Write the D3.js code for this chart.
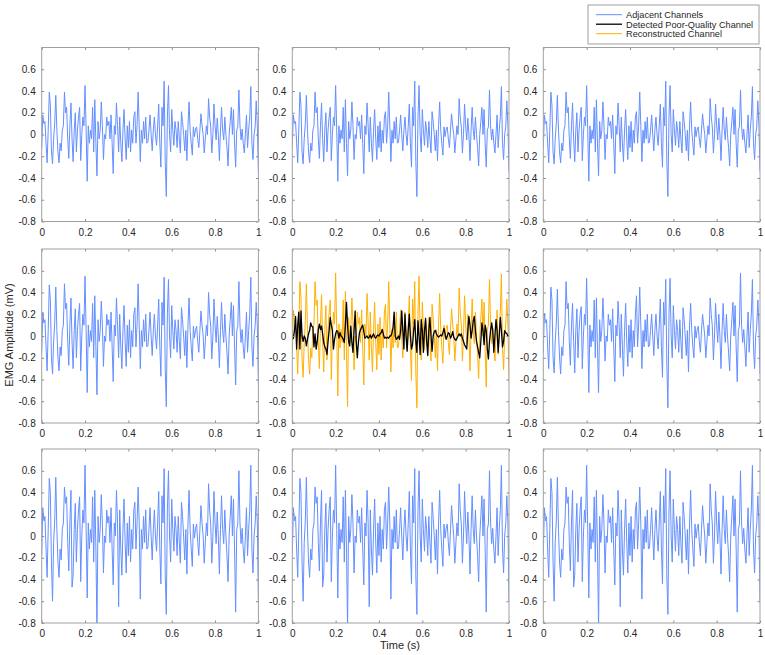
<!doctype html>
<html>
  <head>
    <meta charset="utf-8"/>
    <title>EMG channel reconstruction</title>
    <style>
      body, html {
        font-family: "Liberation Sans", "Helvetica", Arial, sans-serif;
        padding: 0;
        margin: 0;
        border: 0;
        background: #fff;
      }
      .tick text {
        font-size: 10px;
        fill: #262626;
        font-family: "Liberation Sans", Arial, sans-serif;
      }
      .tick line { stroke: #8a8a8a; }
      .axis-label {
        font-size: 11px;
        fill: #262626;
      }
      .legend text {
        font-size: 9.2px;
        fill: #262626;
      }
    </style>
    <script src="https://d3js.org/d3.v7.min.js"></script>
  </head>
  <body>
    <svg id="chart" width="765" height="655"></svg>

    <script>
      // sampled signals, 201 points over 0..1 s (mV)
      var adjacentTop = [
        -0.12,0.18,0.1,0.12,-0.08,-0.26,0.04,0.39,0.27,-0.16,
        -0.27,-0.04,0.1,0.36,0.04,-0.16,-0.26,-0.08,-0.15,0.04,
        0.08,0.39,0.2,0.25,-0.04,-0.22,0.08,0.29,-0.04,-0.25,
        0.04,0.2,-0.16,0.04,0.16,0.25,-0.24,0,0.16,0.08,
        0.45,0.04,-0.43,0.08,-0.08,0.04,-0.04,0.25,-0.16,0.32,
        -0.08,-0.38,0.12,-0.04,0.04,0.3,0.08,-0.23,0,-0.04,
        0.16,0.08,0.12,-0.04,0.18,-0.08,-0.36,0.08,0,0.29,
        0.08,-0.16,0.16,-0.08,-0.25,0.04,0.23,-0.04,-0.23,0.08,
        -0.12,0.12,-0.16,0.04,-0.08,0.16,0.21,-0.08,0.08,0.39,
        0.08,-0.25,0.04,-0.08,0.12,-0.04,0.16,-0.08,-0.07,0.04,
        0.18,0,-0.15,0.04,0.16,0,-0.1,0.08,0.28,-0.08,
        -0.3,0.25,0.08,0.49,-0.25,-0.57,0.16,0.45,0,-0.16,
        0.23,0.04,-0.1,0.12,0.04,-0.12,0.12,-0.04,-0.17,0.21,
        0.12,0,-0.15,0.04,-0.24,0.08,0.3,0.04,-0.08,-0.19,
        0.07,-0.02,0.05,0.07,-0.04,-0.12,0.04,0.19,0.08,0,
        -0.17,-0.04,0.08,0,0.33,0.16,0.07,-0.17,0,0.28,
        0.08,-0.05,0.15,0,-0.24,0.04,0.25,0.04,-0.05,0.16,
        0,-0.12,-0.29,0,0.12,0.25,0,0.23,-0.08,-0.3,
        0.04,0.07,0.41,0.08,-0.05,0.05,-0.08,-0.17,0,0.18,
        -0.12,0.04,0.16,0.44,-0.08,-0.23,0,0.07,0.31,0.08,
        -0.34
      ];

      var adjacentMidLeft = [
        -0.15,0.22,0.12,0.15,-0.1,-0.32,0.05,0.47,0.33,-0.2,
        -0.35,-0.05,0.12,0.45,0.05,-0.2,-0.32,-0.1,-0.18,0.05,
        0.1,0.48,0.25,0.3,-0.05,-0.27,0.1,0.35,-0.05,-0.3,
        0.05,0.25,-0.2,0.05,0.2,0.3,-0.32,0,0.2,0.1,
        0.55,0.05,-0.52,0.1,-0.1,0.05,-0.05,0.3,-0.2,0.37,
        -0.1,-0.54,0.15,-0.05,0.05,0.32,0.1,-0.28,0,-0.05,
        0.2,0.1,0.15,-0.05,0.22,-0.1,-0.42,0.1,0,0.35,
        0.1,-0.2,0.2,-0.1,-0.3,0.05,0.28,-0.05,-0.28,0.1,
        -0.15,0.15,-0.2,0.05,-0.1,0.2,0.26,-0.1,0.1,0.48,
        0.1,-0.3,0.05,-0.1,0.15,-0.05,0.2,-0.1,-0.09,0.05,
        0.22,0,-0.18,0.05,0.2,0,-0.12,0.1,0.34,-0.1,
        -0.37,0.31,0.1,0.54,-0.3,-0.65,0.2,0.52,0,-0.2,
        0.28,0.05,-0.12,0.15,0.05,-0.15,0.15,-0.05,-0.21,0.26,
        0.15,0,-0.18,0.05,-0.29,0.1,0.35,0.05,-0.1,-0.23,
        0.09,-0.02,0.06,0.09,-0.05,-0.15,0.05,0.23,0.1,0,
        -0.21,-0.05,0.1,0,0.4,0.2,0.09,-0.21,0,0.34,
        0.1,-0.06,0.18,0,-0.29,0.05,0.31,0.05,-0.06,0.2,
        0,-0.15,-0.35,0,0.15,0.31,0,0.28,-0.1,-0.45,
        0.05,0.09,0.5,0.1,-0.06,0.06,-0.1,-0.21,0,0.22,
        -0.15,0.05,0.2,0.54,-0.1,-0.28,0,0.09,0.31,0.1,
        -0.43
      ];

      var adjacentMidRight = [
        -0.15,0.21,0.12,0.15,-0.1,-0.3,0.05,0.45,0.33,-0.2,
        -0.34,-0.05,0.12,0.43,0.05,-0.2,-0.35,-0.1,-0.18,0.05,
        0.1,0.5,0.25,0.3,-0.05,-0.27,0.1,0.3,-0.05,-0.34,
        0.05,0.25,-0.2,0.05,0.2,0.27,-0.3,0,0.2,0.1,
        0.53,0.05,-0.52,0.1,-0.1,0.05,-0.05,0.33,-0.2,0.35,
        -0.1,-0.52,0.15,-0.05,0.05,0.35,0.1,-0.23,0,-0.05,
        0.2,0.1,0.15,-0.05,0.25,-0.1,-0.42,0.1,0,0.32,
        0.1,-0.2,0.2,-0.1,-0.37,0.05,0.3,-0.05,-0.28,0.1,
        -0.15,0.15,-0.2,0.05,-0.1,0.2,0.37,-0.1,0.1,0.45,
        0.1,-0.3,0.05,-0.1,0.15,-0.05,0.2,-0.1,-0.09,0.05,
        0.2,0,-0.18,0.05,0.2,0,-0.12,0.1,0.34,-0.1,
        -0.38,0.31,0.1,0.52,-0.25,-0.66,0.2,0.53,0,-0.2,
        0.28,0.05,-0.12,0.15,0.05,-0.15,0.15,-0.05,-0.21,0.26,
        0.15,0,-0.18,0.05,-0.33,0.1,0.3,0.05,-0.1,-0.2,
        0.09,-0.02,0.06,0.09,-0.05,-0.15,0.05,0.2,0.1,0,
        -0.2,-0.05,0.1,0,0.35,0.2,0.09,-0.22,0,0.3,
        0.1,-0.06,0.2,0,-0.3,0.05,0.3,0.05,-0.06,0.2,
        0,-0.15,-0.32,0,0.15,0.31,0,0.28,-0.1,-0.42,
        0.05,0.09,0.58,0.1,-0.06,0.06,-0.1,-0.28,0,0.22,
        -0.15,0.05,0.2,0.52,-0.1,-0.3,0,0.09,0.33,0.1,
        -0.35
      ];

      var adjacentBottom = [
        -0.18,0.26,0.14,0.18,-0.12,-0.38,0.06,0.53,0.4,-0.24,
        -0.6,-0.06,0.14,0.54,0.06,-0.24,-0.38,-0.12,-0.22,0.06,
        0.12,0.45,0.3,0.36,-0.06,-0.32,0.12,0.42,-0.47,-0.36,
        0.06,0.3,-0.24,0.06,0.24,0.36,-0.42,0,0.24,0.12,
        0.65,0.06,-0.57,0.12,-0.12,0.06,-0.06,0.36,-0.24,0.42,
        -0.12,-0.85,0.18,-0.06,0.06,0.38,0.12,-0.34,0,-0.06,
        0.24,0.12,0.18,-0.06,0.26,-0.12,-0.45,0.12,0,0.42,
        0.12,-0.65,0.24,-0.12,-0.36,0.06,0.34,-0.06,-0.34,0.12,
        -0.18,0.18,-0.24,0.06,-0.12,0.24,0.31,-0.12,0.12,0.45,
        0.12,-0.58,0.06,-0.12,0.18,-0.06,0.24,-0.12,-0.11,0.06,
        0.26,0,-0.22,0.06,0.24,0,-0.14,0.12,0.41,-0.12,
        -0.44,0.37,0.12,0.62,-0.36,-0.72,0.24,0.6,0,-0.24,
        0.34,0.06,-0.14,0.18,0.06,-0.18,0.18,-0.06,-0.25,0.31,
        0.18,0,-0.22,0.06,-0.35,0.12,0.42,0.06,-0.12,-0.28,
        0.11,-0.02,0.07,0.11,-0.06,-0.18,0.06,0.28,0.12,0,
        -0.25,-0.06,0.12,0,0.48,0.24,0.11,-0.25,0,0.41,
        0.12,-0.07,0.22,0,-0.35,0.06,0.37,0.06,-0.07,0.24,
        0,-0.18,-0.42,0,0.18,0.37,0,0.34,-0.12,-0.7,
        0.06,0.11,0.6,0.12,-0.07,0.07,-0.12,-0.25,0,0.26,
        -0.18,0.06,0.24,0.65,-0.12,-0.34,0,0.11,0.37,0.12,
        -0.6
      ];

      var poorQuality = [
        -0.03,-0.02,0.05,0.18,-0.12,0.1,0.22,-0.12,0.23,0,
        -0.05,0,-0.02,-0.09,-0.03,0.02,0.05,0.12,0.09,0.08,
        -0.1,0.02,-0.12,-0.05,0.06,0.11,0.06,0.09,0.02,-0.06,
        -0.1,-0.12,-0.17,-0.05,0.05,0.17,0.1,0.05,-0.12,-0.03,
        0.02,0.05,0.04,-0.02,0.03,0,-0.01,-0.03,-0.06,0.1,
        0.31,0.1,-0.05,-0.09,0.09,-0.06,-0.15,0.05,0.23,-0.05,
        -0.2,-0.06,0.03,0.06,0.08,0.1,0.04,-0.02,-0.01,0,
        -0.02,-0.01,0.01,-0.02,0,0.02,-0.01,-0.02,0,0.01,
        0,0.02,0.03,0.06,0.02,-0.02,-0.01,-0.02,-0.01,-0.02,
        0,0,0.03,0.08,0.22,0,-0.03,-0.02,0,-0.03,
        0.05,0.23,0.05,-0.12,0.2,0,-0.14,0.05,0.2,0,
        -0.12,-0.08,0.05,0.15,-0.05,-0.15,0.14,0,-0.17,0.15,
        0.05,-0.15,0.05,0.16,-0.05,-0.18,0.05,0.17,0,-0.14,
        0,0.04,0.05,0.02,0,-0.01,0,0.01,0,0.03,
        0.07,0.02,-0.03,0,0.03,0.02,-0.02,0,0.04,-0.01,
        -0.03,-0.04,-0.02,0,0.02,0,0.02,-0.02,-0.05,-0.08,
        -0.1,-0.12,0.05,0.18,0.1,-0.02,0.05,0.14,0.18,0.05,
        -0.05,-0.1,-0.15,-0.2,-0.05,0.12,0.05,-0.08,0.1,0.05,
        -0.12,-0.21,-0.05,0.05,0.12,0.05,-0.15,0,0.15,0.05,
        -0.15,0,0.17,0.05,-0.1,-0.05,0.05,0.03,0.02,0,
        0
      ];

      var reconstructed = [
        -0.16,0.24,0.13,0.17,-0.11,-0.35,0.06,0.5,0.36,-0.22,
        -0.38,-0.06,0.13,0.48,0.06,-0.22,-0.35,-0.11,-0.2,0.06,
        0.11,0.5,0.28,0.33,-0.06,-0.3,0.11,0.38,-0.06,-0.33,
        0.06,0.28,-0.22,0.06,0.22,0.33,-0.4,0,0.22,0.11,
        0.58,0.06,-0.55,0.11,-0.11,0.06,-0.06,0.33,-0.22,0.41,
        -0.11,-0.65,0.17,-0.06,0.06,0.35,0.11,-0.31,0,-0.06,
        0.22,0.11,0.17,-0.06,0.24,-0.11,-0.45,0.11,0,0.39,
        0.11,-0.22,0.22,-0.11,-0.33,0.06,0.31,-0.06,-0.31,0.11,
        -0.17,0.17,-0.22,0.06,-0.11,0.22,0.29,-0.11,0.11,0.5,
        0.11,-0.33,0.06,-0.11,0.17,-0.06,0.22,-0.11,-0.1,0.06,
        0.24,0,-0.2,0.06,0.22,0,-0.13,0.11,0.37,-0.11,
        -0.41,0.34,0.11,0.5,-0.33,-0.66,0.22,0.55,0,-0.22,
        0.31,0.06,-0.13,0.17,0.06,-0.17,0.17,-0.06,-0.23,0.29,
        0.17,0,-0.2,0.06,-0.32,0.11,0.39,0.06,-0.11,-0.25,
        0.1,-0.02,0.07,0.1,-0.06,-0.17,0.06,0.25,0.11,0,
        -0.23,-0.06,0.11,0,0.44,0.22,0.1,-0.23,0,0.37,
        0.11,-0.07,0.2,0,-0.32,0.06,0.34,0.06,-0.07,0.22,
        0,-0.17,-0.39,0,0.17,0.34,0,0.31,-0.11,-0.47,
        0.06,0.1,0.52,0.11,-0.07,0.07,-0.11,-0.23,0,0.24,
        -0.17,0.06,0.22,0.57,-0.11,-0.31,0,0.1,0.34,0.11,
        -0.41
      ];

      var xTicks = [0, 0.2, 0.4, 0.6, 0.8, 1];
      var yTicks = [-0.8, -0.6, -0.4, -0.2, 0, 0.2, 0.4, 0.6];
      var legendLabels = ["Adjacent Channels", "Detected Poor-Quality Channel", "Reconstructed Channel"];

      var blue = "#648fff", black = "#000000", orange = "#ffb000";

      // which traces go in which panel (row by row)
      var panels = [
        [[adjacentTop, blue]], [[adjacentTop, blue]], [[adjacentTop, blue]],
        [[adjacentMidLeft, blue]], [[reconstructed, orange], [poorQuality, black]], [[adjacentMidRight, blue]],
        [[adjacentBottom, blue]], [[adjacentBottom, blue]], [[adjacentBottom, blue]]
      ];

      var colX = [41.7, 292.3, 543.3],
          rowY = [47.5, 249, 449],
          pw = 216.7,
          ph = 174;

      var svg = d3.select("#chart");

      var x = d3.scaleLinear().domain([0, 1]).range([0, pw]);
      var y = d3.scaleLinear().domain([-0.8, 0.8]).range([ph, 0]);

      var fmt = function(d) { return String(d); };

      panels.forEach(function(traces, k) {
        var col = k % 3, row = Math.floor(k / 3);
        var g = svg.append("g")
          .attr("transform", "translate(" + colX[col] + "," + rowY[row] + ")");

        g.append("clipPath").attr("id", "clip" + k)
          .append("rect").attr("width", pw).attr("height", ph);

        traces.forEach(function(tr) {
          var vals = tr[0];
          var line = d3.line()
            .x(function(d, i) { return x(i / (vals.length - 1)); })
            .y(function(d) { return y(d); });
          g.append("path")
            .datum(vals)
            .attr("clip-path", "url(#clip" + k + ")")
            .attr("fill", "none")
            .attr("stroke", tr[1])
            .attr("stroke-width", tr[1] === black ? 1.3 : 1)
            .attr("stroke-linejoin", "round")
            .attr("d", line);
        });

        // axes with inward ticks, box style
        var ax = [
          [d3.axisBottom(x).tickValues(xTicks).tickFormat(fmt).tickPadding(7), "translate(0," + ph + ")"],
          [d3.axisTop(x).tickValues(xTicks).tickFormat(""), "translate(0,0)"],
          [d3.axisLeft(y).tickValues(yTicks).tickFormat(fmt).tickPadding(6), "translate(0,0)"],
          [d3.axisRight(y).tickValues(yTicks).tickFormat(""), "translate(" + pw + ",0)"]
        ];
        ax.forEach(function(a) {
          var ag = g.append("g").attr("transform", a[1]).call(a[0].tickSize(-2.5));
          ag.select(".domain").remove();
        });

        g.append("rect")
          .attr("width", pw).attr("height", ph)
          .attr("fill", "none")
          .attr("stroke", "#a0a0a0")
          .attr("stroke-width", 1);
      });

      svg.append("text")
        .attr("class", "axis-label")
        .attr("text-anchor", "middle")
        .attr("transform", "translate(13,335) rotate(-90)")
        .text("EMG Amplitude (mV)");

      svg.append("text")
        .attr("class", "axis-label")
        .attr("text-anchor", "middle")
        .attr("x", 400)
        .attr("y", 649)
        .text("Time (s)");

      // legend
      var legend = svg.append("g").attr("class", "legend");
      legend.append("rect")
        .attr("x", 588).attr("y", 5)
        .attr("width", 171).attr("height", 39)
        .attr("fill", "#fff")
        .attr("stroke", "#a0a0a0");
      var legendColors = [blue, black, orange];
      legendLabels.forEach(function(lbl, i) {
        var ly = 14.7 + i * 9.5;
        legend.append("line")
          .attr("x1", 596).attr("x2", 622)
          .attr("y1", ly).attr("y2", ly)
          .attr("stroke", legendColors[i])
          .attr("stroke-width", i === 1 ? 1.3 : 1);
        legend.append("text")
          .attr("x", 626).attr("y", ly + 3.3)
          .text(lbl);
      });
    </script>
  </body>
</html>
